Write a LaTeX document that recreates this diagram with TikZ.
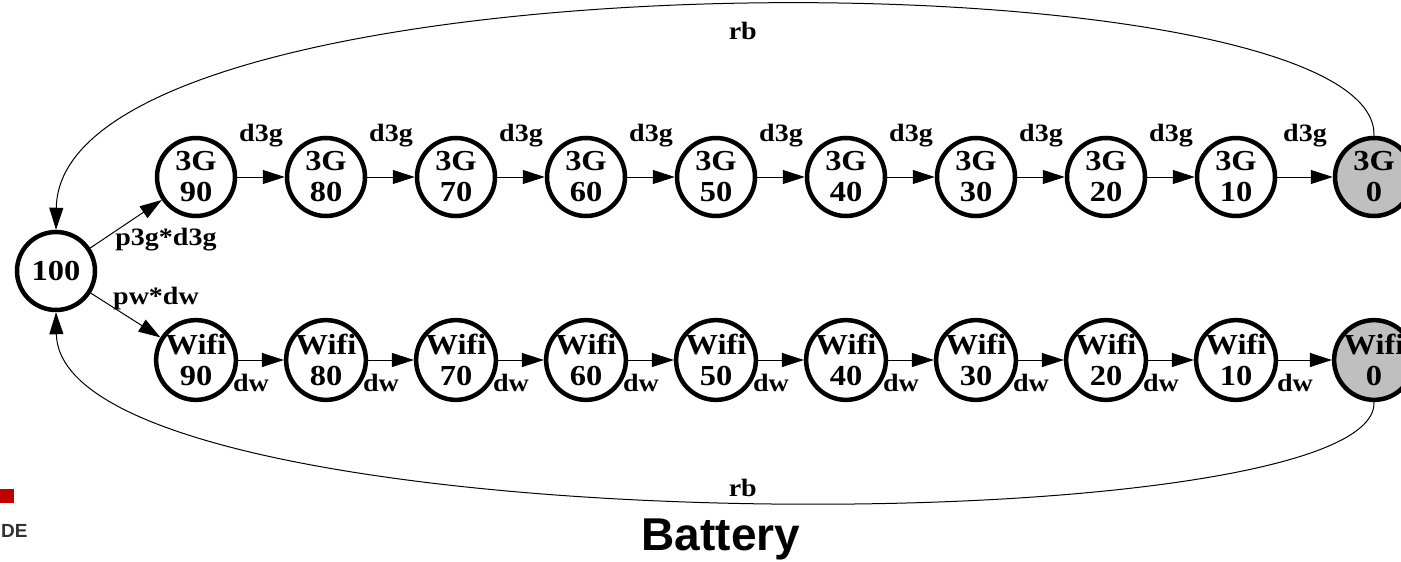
\documentclass[tikz,border=0pt]{standalone}
\usepackage{fontspec}
\setmainfont{Liberation Serif}[FakeStretch=1.12]
\newfontfamily\slidefont{Liberation Sans}
\usetikzlibrary{arrows.meta}

\begin{document}
\begin{tikzpicture}[
    x=1pt, y=-1pt,
    state/.style={circle, draw, line width=4.5pt, minimum size=78pt, inner sep=0pt,
                  align=center, font=\fontsize{29}{31}\selectfont\bfseries},
    drained/.style={state, fill=black!25},
    trans/.style={line width=1pt, -{Triangle[length=22pt, width=14pt]}},
    elabel/.style={font=\fontsize{25}{27}\selectfont\bfseries},
]
\clip (0,0) rectangle (1401,562);
\fill[white] (0,0) rectangle (1401,562);

% Full battery
\node[state] (full) at (56,271) {100};

% 3G and Wifi discharge chains
\foreach \v [count=\i] in {90,80,70,60,50,40,30,20,10}{
  \node[state] (g\i) at ({66+130*\i}, 177) {3G\\\v};
  \node[state] (w\i) at ({66+130*\i}, 360) {Wifi\\\v};
}
\node[drained] (g10) at (1374,177) {3G\\0};
\node[drained] (w10) at (1374,360) {Wifi\\0};

\foreach \i [count=\j from 2] in {1,...,9}{
  \draw[trans] (g\i) -- node[elabel, above=26pt] (lg\i) {d3g} (g\j);
  \draw[trans] (w\i) -- node[elabel, below=10pt, xshift=-10pt] (lw\i) {dw} (w\j);
}

% Leaving the full state
\draw[trans] (full) -- (g1);
\draw[trans] (full) -- (w1);
\node[elabel] (pg) at (166,240) {p3g*d3g};
\node[elabel] (pw) at (156,298) {pw*dw};

% Recharge back to full
\draw[trans] (g10.north) .. controls (1380,-50) and (60,-55)
    .. node[elabel, below=12pt, xshift=24pt] (rbtop) {rb} (full.north);
\draw[trans] (w10.south) .. controls (1380,548) and (60,548)
    .. node[elabel, above=0pt, xshift=24pt] (rbbot) {rb} (full.south);

% Slide title and logo remains
\node[font=\slidefont\bfseries\fontsize{46}{50}\selectfont, anchor=base] (title) at (721,550) {Battery};
\fill[red!75!black] (0,489) rectangle (14,503);
\node[font=\slidefont\bfseries\fontsize{19}{21}\selectfont, text=black!80, anchor=base west,
      inner sep=0pt] (logo) at (1,537) {DE};

\end{tikzpicture}
\end{document}
